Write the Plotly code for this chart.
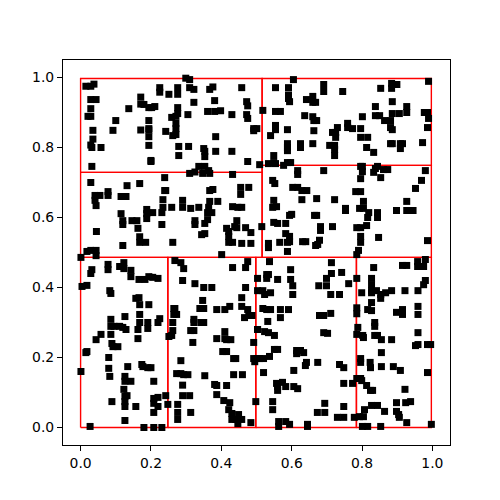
import plotly.graph_objects as go

# points, by region of the plot
top_left_x = [.299,.310,.015,.029,.038,.225,.225,.276,.276,.251,.310,.322,.367,.376,.458,.171,.029,.044,.322,.381,.472,.171,.180,.194,.202,.211,.475,.137,.029,.276,.361,.381,.398,.276,.305,.430,.472,.021,.029,.259,.271,.475,.100,.194,.271,.171,.092,.035,.194,.271,.194,.242,.492,.492,.271,.262,.194,.384,.035,.029,.032,.058,.194,.279,.307,.350,.353,.384,.430,.279,.353,.200,.200,.475,.032,.336,.353,.364,.325,.310,.347,.367,.432]
top_left_y = [.998,.994,.975,.975,.981,.971,.958,.971,.952,.952,.971,.966,.966,.973,.971,.944,.937,.937,.929,.934,.931,.924,.923,.914,.914,.917,.919,.911,.911,.914,.903,.903,.905,.897,.894,.894,.894,.889,.889,.886,.889,.883,.877,.877,.869,.850,.849,.849,.854,.854,.850,.846,.854,.848,.837,.834,.831,.831,.824,.807,.800,.800,.806,.803,.803,.797,.789,.789,.789,.777,.774,.763,.760,.760,.746,.746,.746,.734,.730,.726,.726,.726,.723]

mid_left_x = [.239,.029,.132,.168,.239,.242,.367,.376,.455,.478,.455,.078,.078,.041,.055,.115,.129,.041,.044,.234,.290,.367,.390,.290,.259,.234,.313,.336,.432,.447,.458,.364,.188,.205,.231,.361,.373,.115,.188,.188,.361,.120,.146,.160,.325,.444,.120,.231,.325,.353,.438,.163,.415,.469,.444,.045,.484,.421,.353,.344,.421,.168,.168,.185,.262,.421,.432,.458,.484,.120,.018,.029,.044,.044,.001,.401]
mid_left_y = [.714,.700,.691,.697,.677,.677,.677,.680,.686,.686,.666,.674,.663,.663,.663,.660,.660,.649,.634,.651,.649,.646,.646,.629,.629,.629,.626,.629,.631,.629,.629,.629,.623,.614,.614,.614,.614,.611,.611,.597,.594,.591,.591,.591,.591,.591,.580,.580,.580,.583,.574,.569,.569,.571,.571,.560,.557,.560,.554,.551,.546,.545,.529,.529,.529,.529,.529,.526,.526,.520,.503,.506,.506,.491,.486,.494]

low_left_x = [.268,.285,.293,.475,.469,.432,.078,.078,.123,.111,.123,.032,.029,.143,.143,.194,.183,.166,.205,.220,.290,.325,.018,.004,.350,.373,.469,.083,.086,.458,.157,.166,.168,.194,.347,.268,.265,.339,.350,.387,.410,.424,.458,.475,.265,.273,.168,.126,.478,.487,.466,.086,.225,.322,.220,.168,.191,.262,.322,.342,.350,.086,.095,.111,.120,.129,.163,.191,.262,.313,.322,.058,.086,.410,.503,.259,.251,.044,.163,.387,.410,.415,.427,.089,.319,.492,.106,.092,.018,.015,.404,.415,.080,.285,.435,.441,.492,.501,.495,.134,.174,.177,.191,.200,.080,.001,.273,.285,.293,.305,.353,.435,.460,.083,.126,.126,.143,.208,.290,.381,.387,.415,.123,.132,.126,.242,.290,.310,.387,.208,.220,.089,.126,.407,.424,.498,.208,.248,.276,.126,.157,.220,.421,.208,.276,.313,.430,.449,.430,.276,.126,.441,.458,.447,.484,.027,.180,.208,.231]
low_left_y = [.477,.471,.454,.474,.457,.457,.466,.451,.471,.460,.454,.451,.440,.449,.431,.431,.423,.423,.429,.426,.420,.411,.406,.403,.400,.400,.400,.391,.383,.371,.369,.371,.351,.351,.363,.340,.340,.340,.340,.337,.337,.346,.346,.337,.323,.323,.323,.317,.320,.320,.314,.309,.311,.309,.300,.300,.300,.300,.300,.300,.300,.289,.289,.289,.286,.280,.280,.283,.277,.277,.277,.266,.266,.274,.280,.263,.260,.251,.254,.254,.254,.251,.251,.240,.243,.243,.231,.231,.217,.214,.217,.217,.200,.191,.197,.197,.197,.197,.188,.174,.180,.174,.171,.171,.169,.160,.154,.154,.151,.151,.148,.151,.151,.146,.146,.132,.132,.132,.121,.123,.120,.120,.109,.091,.089,.091,.091,.091,.094,.083,.086,.074,.074,.077,.071,.074,.069,.066,.066,.060,.060,.060,.051,.043,.043,.043,.040,.037,.023,.023,.020,.023,.023,.011,.014,.003,.000,.000,.000]

top_right_x = [.605,.989,.554,.591,.691,.691,.745,.853,.884,.899,.884,.591,.591,.594,.660,.642,.660,.668,.886,.838,.927,.518,.554,.568,.886,.906,.927,.977,.986,.637,.660,.838,.850,.801,.989,.663,.671,.864,.881,.759,.554,.554,.730,.759,.773,.796,.881,.886,.986,.588,.501,.663,.716,.725,.540,.725,.796,.816,.588,.625,.625,.660,.881,.886,.909,.915,.972,.708,.722,.588,.588,.813,.909,.722,.833,.549,.722,.534,.549,.554,.588,.597,.577,.509,.796,.801,.844,.838,.861,.873,.617,.691,.801,.833,.980,.617,.853,.796,.969]
top_right_y = [.994,.989,.971,.971,.980,.960,.960,.969,.983,.980,.969,.950,.940,.931,.946,.937,.929,.929,.931,.917,.917,.906,.903,.903,.897,.897,.900,.900,.900,.891,.888,.891,.891,.888,.883,.877,.877,.877,.877,.869,.863,.851,.857,.857,.854,.854,.857,.851,.857,.851,.854,.848,.843,.843,.834,.829,.829,.829,.811,.811,.800,.811,.811,.811,.811,.811,.814,.806,.806,.800,.791,.800,.797,.794,.786,.777,.777,.754,.757,.754,.757,.757,.749,.751,.746,.746,.746,.740,.737,.737,.734,.734,.731,.729,.734,.723,.714,.711,.706]

mid_right_x = [.546,.552,.952,.603,.617,.629,.643,.782,.796,.629,.671,.722,.804,.549,.927,.557,.546,.753,.753,.793,.804,.898,.927,.945,.819,.844,.816,.844,.600,.594,.665,.671,.549,.560,.583,.515,.682,.716,.813,.785,.796,.682,.583,.594,.796,.847,.679,.594,.588,.566,.631,.640,.796,.986,.534,.534,.674,.668,.588,.790,.785]
mid_right_y = [.706,.697,.683,.686,.686,.677,.677,.674,.674,.651,.654,.651,.646,.649,.646,.631,.629,.626,.620,.626,.626,.620,.620,.620,.614,.614,.600,.600,.609,.606,.606,.606,.586,.583,.583,.574,.574,.574,.577,.571,.571,.563,.554,.546,.546,.543,.535,.531,.529,.529,.531,.531,.529,.534,.526,.514,.523,.520,.503,.506,.494]

low_right_x = [.537,.713,.980,.958,.958,.975,.915,.927,.833,.597,.534,.713,.742,.529,.529,.503,.560,.597,.699,.785,.827,.603,.677,.699,.762,.827,.975,.980,.503,.518,.523,.540,.827,.841,.827,.884,.867,.799,.853,.853,.922,.959,.603,.711,.736,.827,.518,.529,.540,.568,.591,.785,.785,.816,.827,.959,.915,.898,.915,.959,.711,.679,.691,.568,.532,.836,.836,.788,.503,.523,.534,.551,.691,.702,.785,.802,.804,.836,.844,.855,.884,.959,.959,.952,.986,.995,.551,.560,.614,.625,.614,.634,.855,.537,.520,.509,.796,.796,.642,.639,.674,.736,.748,.823,.824,.855,.889,.909,.606,.520,.986,.785,.796,.799,.748,.773,.557,.574,.560,.583,.606,.617,.560,.813,.824,.830,.922,.546,.694,.898,.924,.938,.827,.844,.748,.546,.807,.864,.898,.673,.694,.904,.906,.730,.748,.778,.793,.804,.563,.583,.594,.563,.645,.645,.927,.997,.801,.816,.853]
low_right_y = [.474,.471,.480,.474,.460,.460,.463,.463,.457,.451,.437,.440,.443,.437,.426,.426,.423,.423,.426,.426,.426,.405,.405,.405,.411,.408,.408,.420,.391,.391,.380,.385,.391,.391,.385,.391,.385,.385,.380,.369,.391,.391,.380,.380,.380,.357,.340,.337,.337,.337,.337,.342,.325,.337,.334,.346,.337,.329,.323,.323,.326,.320,.320,.314,.303,.300,.289,.286,.280,.274,.271,.263,.271,.269,.266,.263,.257,.263,.263,.251,.251,.271,.237,.234,.237,.237,.223,.223,.220,.220,.211,.214,.214,.203,.197,.197,.197,.186,.186,.177,.186,.180,.171,.186,.171,.174,.174,.163,.163,.157,.157,.140,.140,.134,.126,.126,.126,.129,.117,.117,.117,.111,.106,.120,.106,.106,.109,.074,.069,.071,.071,.074,.063,.063,.060,.051,.051,.046,.046,.043,.043,.037,.029,.029,.029,.029,.031,.031,.017,.017,.009,.003,.009,.003,.014,.009,.003,.003,.003]

# red boxes
box_x0 = [0, 0, .516, .516, 0, .248, .498, .784]
box_x1 = [.516, .516, .997, .997, .248, .498, .784, .997]
box_y0 = [.729, .486, .749, .486, 0, 0, 0, 0]
box_y1 = [.997, .729, .997, .749, .486, .486, .486, .486]

tick_vals = [0, .2, .4, .6, .8, 1]
tick_text = ["0.0", "0.2", "0.4", "0.6", "0.8", "1.0"]

xs = top_left_x + mid_left_x + low_left_x + top_right_x + mid_right_x + low_right_x
ys = top_left_y + mid_left_y + low_left_y + top_right_y + mid_right_y + low_right_y

fig = go.Figure()

for x0, x1, y0, y1 in zip(box_x0, box_x1, box_y0, box_y1):
    fig.add_trace(go.Scatter(x=[x0, x1, x1, x0, x0], y=[y0, y0, y1, y1, y0], mode="lines", line=dict(color="red", width=1.4)))

# markers last so they sit over the red lines
fig.add_trace(go.Scatter(x=xs, y=ys, mode="markers", marker=dict(symbol="square", size=7, color="black", line=dict(width=0))))

axis = dict(range=[-.05, 1.05], tickmode="array", tickvals=tick_vals, ticktext=tick_text, ticks="outside", ticklen=5, tickwidth=1.1,
            tickcolor="black", showline=True, linecolor="black", linewidth=1.1, mirror=True, showgrid=False, zeroline=False)
fig.update_layout(
    width=500, height=500, autosize=False, showlegend=False,
    margin=dict(l=62.5, r=50, t=60, b=55),
    paper_bgcolor="white", plot_bgcolor="white",
    font=dict(family="DejaVu Sans", size=13.9, color="black"),
    xaxis=axis, yaxis=axis,
)

fig.write_html("out.html", config=dict(displayModeBar=False), post_script="document.body.style.margin='0';")
